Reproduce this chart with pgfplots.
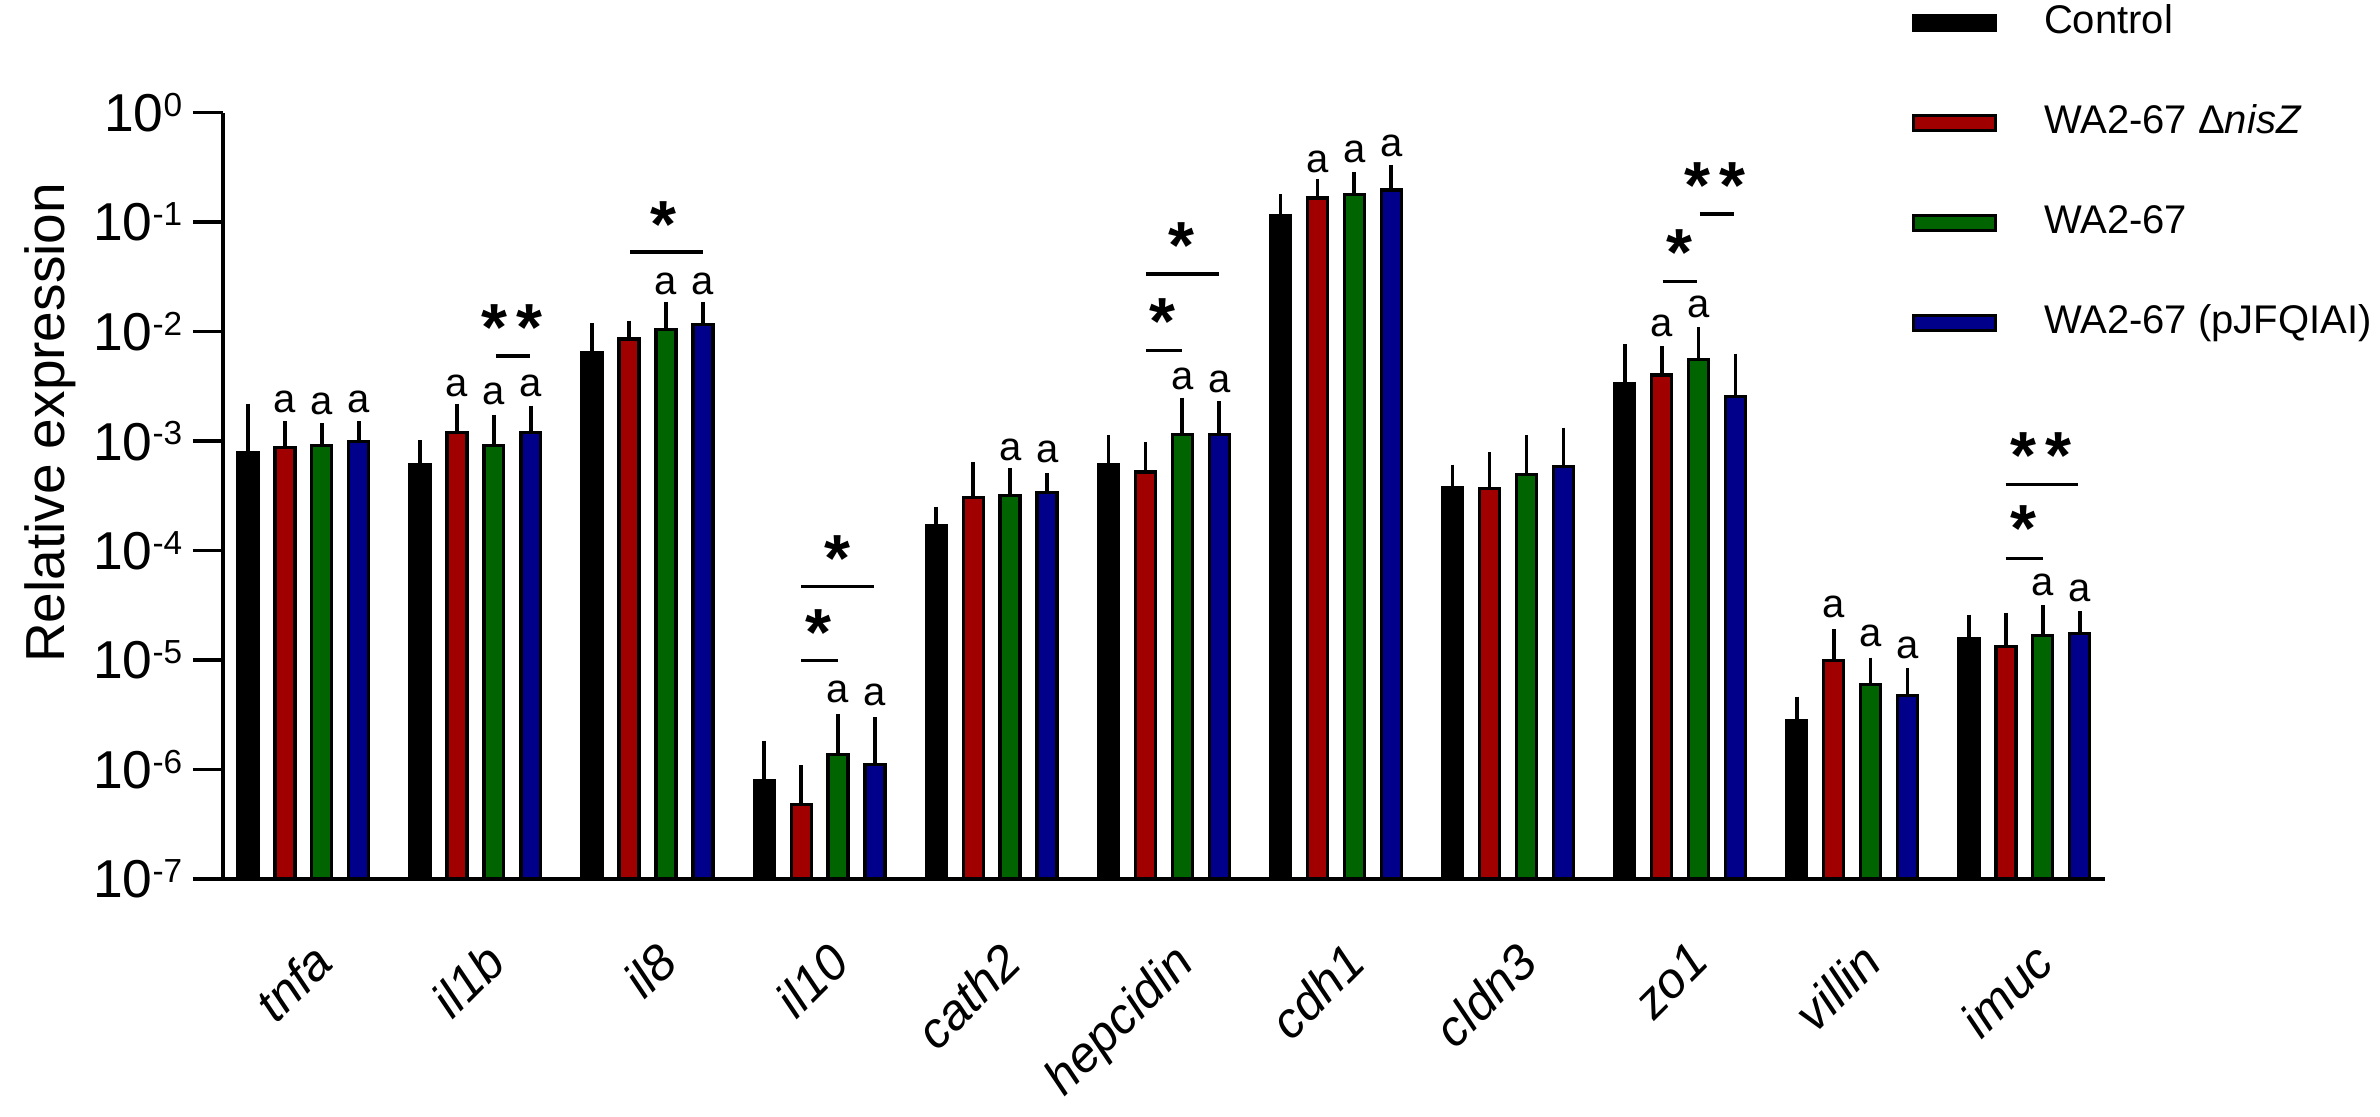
\documentclass[border=0pt]{standalone}
\usepackage{fontspec}
\setmainfont{Liberation Sans}
\usepackage{pgfplots}
\usepackage{pgfplotstable}
\pgfplotsset{compat=1.18}

\definecolor{cRed}{HTML}{A00000}
\definecolor{cGreen}{HTML}{006400}
\definecolor{cBlue}{HTML}{00008B}

\pgfplotstableread{
x y e
-0.322 7.8e-4 1.08e-3
0.678 6.06e-4 2.49e-4
1.678 6.37e-3 3.73e-3
2.678 7.9e-7 7.6e-7
3.678 1.67e-4 4.6e-5
4.678 6.06e-4 3.44e-4
5.678 0.114 0.038
6.678 3.76e-4 1.38e-4
7.678 3.34e-3 3.12e-3
8.678 2.77e-6 1.15e-6
9.678 1.57e-5 6.2e-6
}\ctrl
\pgfplotstableread{
x y e
-0.107 8.7e-4 4.1e-4
0.893 1.19e-3 6.7e-4
1.893 8.57e-3 2.03e-3
2.893 4.8e-7 4.4e-7
3.893 3.05e-4 2.33e-4
4.893 5.22e-4 2.98e-4
5.893 0.166 0.045
6.893 3.7e-4 2.94e-4
7.893 4.0e-3 2.18e-3
8.893 9.9e-6 6.3e-6
9.893 1.33e-5 9.6e-6
}\dnis
\pgfplotstableread{
x y e
0.107 9.1e-4 3.3e-4
1.107 9.1e-4 5.6e-4
2.107 1.04e-2 5.4e-3
3.107 1.37e-6 1.36e-6
4.107 3.19e-4 1.58e-4
5.107 1.15e-3 9.5e-4
6.107 0.179 0.062
7.107 4.92e-4 4.58e-4
8.107 5.56e-3 3.69e-3
9.107 5.94e-6 2.96e-6
10.107 1.67e-5 9.9e-6
}\wa
\pgfplotstableread{
x y e
0.322 9.9e-4 2.9e-4
1.322 1.19e-3 5.9e-4
2.322 1.16e-2 4.2e-3
3.322 1.11e-6 1.42e-6
4.322 3.39e-4 9.1e-5
5.322 1.15e-3 8.0e-4
6.322 0.196 0.085
7.322 5.89e-4 5.31e-4
8.322 2.55e-3 2.76e-3
9.322 4.75e-6 2.35e-6
10.322 1.75e-5 6.1e-6
}\pj

\newcommand{\tl}[1]{10\raisebox{4.6pt}{\fontsize{10}{10}\selectfont #1}}
\newcommand{\sig}[3]{\draw[line width=1pt] (axis cs:#1,#3) -- (axis cs:#2,#3);}
\newcommand{\st}[3]{\node[font=\fontsize{20}{20}\selectfont\bfseries, anchor=base, inner sep=0pt] at ([yshift=-11.2pt]axis cs:#1,#2) {#3};}
\newcommand{\la}[2]{\node[font=\fontsize{12}{12}\selectfont, anchor=center, inner sep=0pt] at (axis cs:#1,#2) {a};}
\newcommand{\cat}[2]{\node[rotate=45, anchor=north east, inner sep=0pt, font=\fontsize{15}{18}\selectfont\itshape] at ([xshift=2pt,yshift=-18pt]axis cs:#1,1e-7) {#2};}

\pgfplotsset{
  mybar/.style={ybar, bar width=0.116, bar shift=0pt, line width=1pt, draw=black,
    error bars/.cd, y dir=plus, y explicit,
    error bar style={line width=1.1pt, draw=black, solid},
    error mark=-,
    error mark options={line width=1.1pt, draw=black, mark size=2.4pt},
    /pgfplots/.cd,
    legend image code/.code={\draw[##1, line width=1pt] (0pt,-2.25pt) rectangle (24.6pt,2.25pt);}
  }
}

\begin{document}
\begin{tikzpicture}
\useasboundingbox (0,0) rectangle (714pt,334.8pt);
\begin{axis}[
  at={(66.84pt,71.1pt)}, anchor=south west,
  scale only axis, width=564.75pt, height=229.95pt,
  ymode=log, log origin=infty,
  ymin=1e-7, ymax=1,
  xmin=-0.468, xmax=10.471,
  clip=false,
  axis x line*=bottom, axis y line*=left,
  axis line style={-, line width=1.1pt},
  tick align=outside,
  major tick length=9pt,
  minor tick length=6.6pt,
  tick style={line width=1pt, black},
  yminorticks=false,
  ytick={1e-7,1e-6,1e-5,1e-4,1e-3,1e-2,1e-1,1},
  yticklabels={\tl{-7},\tl{-6},\tl{-5},\tl{-4},\tl{-3},\tl{-2},\tl{-1},\tl{0}},
  yticklabel style={font=\fontsize{16}{19}\selectfont, inner sep=0pt, xshift=-3pt},
  xtick=\empty,
  minor xtick={-0.468,0.5,1.5,2.5,3.5,4.5,5.5,6.5,7.5,8.5,9.5,10.471},
  ylabel={Relative expression},
  ylabel style={at={(axis description cs:-0.0918,0.595)}, anchor=center, font=\fontsize{16.5}{19.8}\selectfont},
  legend style={draw=none, fill=none, at={(axis description cs:0.8968,1.1435)}, anchor=north west,
    inner sep=0pt, row sep=18pt, font=\fontsize{12}{14.4}\selectfont,
    nodes={inner sep=0pt, text height=9pt, text depth=3pt},
    /tikz/every odd column/.append style={column sep=14.1pt}},
  legend cell align=left,
]
\addplot[mybar, fill=black] table[x=x,y=y,y error=e] {\ctrl};
\addlegendentry{Control}
\addplot[mybar, fill=cRed] table[x=x,y=y,y error=e] {\dnis};
\addlegendentry{WA2-67 Δ\textit{nisZ}}
\addplot[mybar, fill=cGreen] table[x=x,y=y,y error=e] {\wa};
\addlegendentry{WA2-67}
\addplot[mybar, fill=cBlue] table[x=x,y=y,y error=e] {\pj};
\addlegendentry{WA2-67 (pJFQIAI)}

% category labels
\cat{0}{tnfa}\cat{1}{il1b}\cat{2}{il8}\cat{3}{il10}\cat{4}{cath2}\cat{5}{hepcidin}
\cat{6}{cdh1}\cat{7}{cldn3}\cat{8}{zo1}\cat{9}{villin}\cat{10}{imuc}

% letters a
\la{-0.107}{2.27e-3}\la{0.107}{2.2e-3}\la{0.322}{2.27e-3}
\la{0.893}{3.18e-3}\la{1.107}{2.69e-3}\la{1.322}{3.18e-3}
\la{2.107}{2.72e-2}\la{2.322}{2.72e-2}
\la{3.107}{5.1e-6}\la{3.322}{4.79e-6}
\la{4.107}{8.28e-4}\la{4.322}{7.94e-4}
\la{5.107}{3.68e-3}\la{5.322}{3.46e-3}
\la{5.893}{0.356}\la{6.107}{0.44}\la{6.322}{0.494}
\la{7.893}{1.12e-2}\la{8.107}{1.66e-2}
\la{8.893}{3.05e-5}\la{9.107}{1.67e-5}\la{9.322}{1.29e-5}
\la{10.107}{4.84e-5}\la{10.322}{4.3e-5}

% significance
\sig{1.119}{1.317}{5.97e-3}\st{1.213}{1.48e-2}{*\kern2.7pt*}
\sig{1.898}{2.322}{5.32e-2}\st{2.095}{0.129}{*}
\sig{2.892}{3.107}{9.9e-6}\st{2.994}{2.43e-5}{*}
\sig{2.892}{3.316}{4.69e-5}\st{3.105}{1.135e-4}{*}
\sig{4.896}{5.103}{6.75e-3}\st{4.991}{1.66e-2}{*}
\sig{4.896}{5.318}{3.35e-2}\st{5.103}{8.22e-2}{*}
\sig{7.898}{8.101}{2.88e-2}\st{7.994}{7.08e-2}{*}
\sig{8.113}{8.316}{0.118}\st{8.205}{0.294}{*\kern2.7pt*}
\sig{9.892}{10.107}{8.41e-5}\st{9.995}{2.16e-4}{*}
\sig{9.892}{10.314}{3.99e-4}\st{10.095}{9.93e-4}{*\kern2.7pt*}
\end{axis}
\end{tikzpicture}
\end{document}
